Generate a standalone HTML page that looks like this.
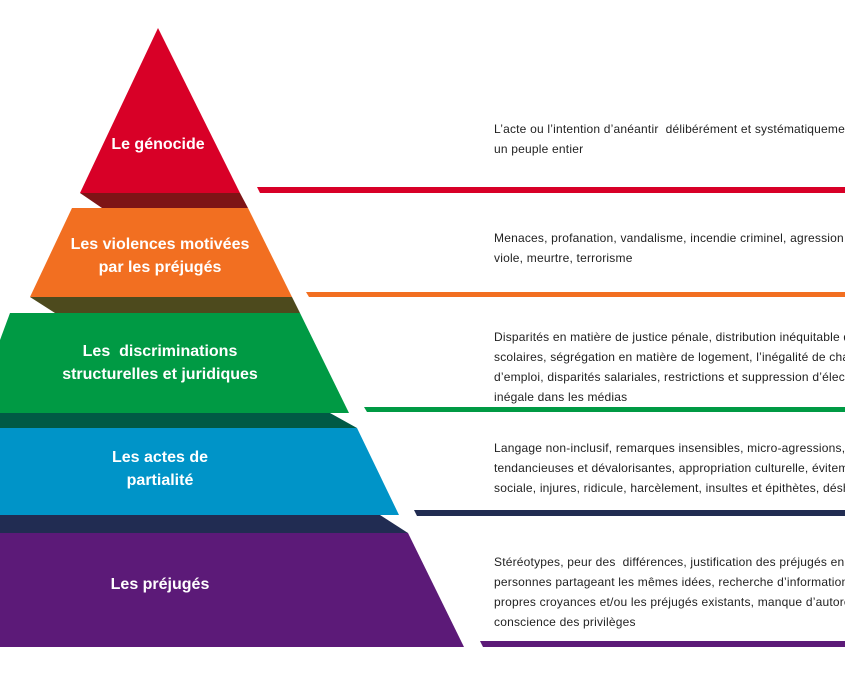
<!DOCTYPE html>
<html><head><meta charset="utf-8"><style>
html,body{margin:0;padding:0;background:#fff;width:845px;height:684px;overflow:hidden;position:relative;font-family:"Liberation Sans",sans-serif}
svg{position:absolute;left:0;top:0}
.l{position:absolute;color:#fff;font-weight:bold;font-size:16px;line-height:23px;text-align:center;width:320px;left:0}
.t{position:absolute;left:494px;width:351px;overflow:hidden;font-size:12px;letter-spacing:0.2px;line-height:20px;color:#222;white-space:nowrap}
</style></head><body>
<svg width="845" height="684">
<polygon points="158,28 240,193 80,193" fill="#d80027"/>
<polygon points="80,193 240,193 248,208 102,208" fill="#7e1416"/>
<polygon points="72,208 248,208 292,297 30,297" fill="#f26f21"/>
<polygon points="30,297 292,297 300,313 55,313" fill="#4d4a1d"/>
<polygon points="10,313 300,313 349,413 0,413 0,340" fill="#009a44"/>
<polygon points="0,413 330,413 357,428 0,428" fill="#005a45"/>
<polygon points="0,428 357,428 399,515 0,515" fill="#0094c8"/>
<polygon points="0,515 380,515 408,533 0,533" fill="#212c52"/>
<polygon points="0,533 408,533 464,647 0,647" fill="#5c1a78"/>
<polygon points="257,187 845,187 845,193 260,193" fill="#d80027"/>
<polygon points="306,292 845,292 845,297 309,297" fill="#f26f21"/>
<polygon points="364,407 845,407 845,412 367,412" fill="#009a44"/>
<polygon points="414,510 845,510 845,516 417,516" fill="#212c52"/>
<polygon points="480,641 845,641 845,647 483,647" fill="#5c1a78"/>
</svg>
<div class="l" style="top:133px;left:-2px">Le génocide</div>
<div class="l" style="top:233px">Les violences motivées<br>par les préjugés</div>
<div class="l" style="top:340px">Les&nbsp; discriminations<br>structurelles et juridiques</div>
<div class="l" style="top:446px">Les actes de<br>partialité</div>
<div class="l" style="top:573px">Les préjugés</div>
<div class="t" style="top:119px">L’acte ou l’intention d’anéantir&nbsp; délibérément et systématiquement<br>un peuple entier</div>
<div class="t" style="top:228px">Menaces, profanation, vandalisme, incendie criminel, agression,<br>viole, meurtre, terrorisme</div>
<div class="t" style="top:327px">Disparités en matière de justice pénale, distribution inéquitable des<br>scolaires, ségrégation en matière de logement, l’inégalité de chances<br>d’emploi, disparités salariales, restrictions et suppression d’électeurs<br>inégale dans les médias</div>
<div class="t" style="top:438px">Langage non-inclusif, remarques insensibles, micro-agressions, blagues<br>tendancieuses et dévalorisantes, appropriation culturelle, évitement<br>sociale, injures, ridicule, harcèlement, insultes et épithètes, déshumanisation</div>
<div class="t" style="top:552px">Stéréotypes, peur des&nbsp; différences, justification des préjugés en recherchant<br>personnes partageant les mêmes idées, recherche d’informations confirmant<br>propres croyances et/ou les préjugés existants, manque d’autoréflexion<br>conscience des privilèges</div>
</body></html>
